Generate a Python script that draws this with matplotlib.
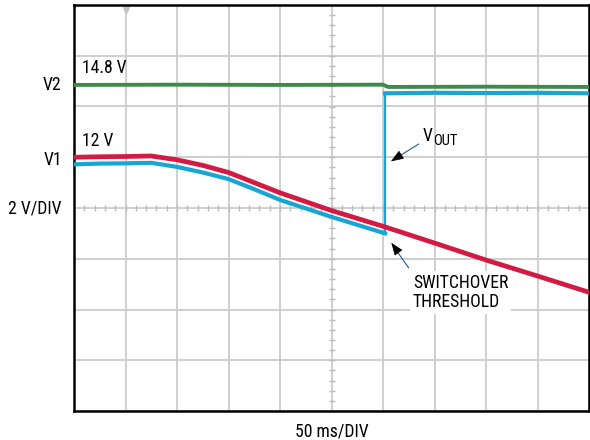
"""
Scope capture: V1 sags, VOUT switches over to V2 at the threshold.
"""

import matplotlib

matplotlib.use("Agg")
import matplotlib.pyplot as plt  # noqa: E402
import numpy as np  # noqa: E402
from matplotlib import font_manager  # noqa: E402

# time in ms (50 ms/DIV), voltage in V (2 V/DIV)
v1_t = [0, 25, 50, 75, 100, 125, 150, 175, 200, 250, 300, 350, 400, 450, 500]
v1_v = [12.0, 12.02, 12.03, 12.05, 11.9, 11.68, 11.4, 11.0, 10.6, 9.9, 9.28,
        8.62, 7.95, 7.32, 6.68]

vout_t = [0, 25, 50, 75, 100, 125, 150, 175, 200, 250, 302, 302, 350, 400,
          450, 500]
vout_v = [11.72, 11.75, 11.76, 11.78, 11.62, 11.4, 11.14, 10.74, 10.32, 9.65,
          9.0, 14.52, 14.54, 14.53, 14.54, 14.52]

v2_t = [0, 100, 200, 300, 305, 400, 500]
v2_v = [14.85, 14.86, 14.85, 14.86, 14.77, 14.78, 14.77]

# pick the narrowest sans that is installed
installed = {f.name for f in font_manager.fontManager.ttflist}
prefs = ["Liberation Sans Narrow", "DejaVu Sans Condensed", "Roboto Condensed",
         "Liberation Sans", "Arial"]
FONT = [f for f in prefs if f in installed][:1] + ["DejaVu Sans"]
plt.rcParams["font.family"] = FONT

RED = "#d21a42"
CYAN = "#17a6d2"
GREEN = "#3c8c48"
GRID = "#cccccc"

fig = plt.figure(figsize=(5.9, 4.4), dpi=100)
ax = fig.add_axes([74 / 590, 29 / 440, 515 / 590, 406 / 440])

ax.set_xlim(0, 500)
ax.set_ylim(2, 18)
ax.set_xticks(np.arange(0, 501, 50))
ax.set_yticks(np.arange(2, 19, 2))
ax.tick_params(length=0, labelbottom=False, labelleft=False)
ax.grid(True, color=GRID, linewidth=1.3)
ax.set_axisbelow(True)
for sp in ax.spines.values():
    sp.set_linewidth(1.8)
    sp.set_color("black")

# center crosshair minor ticks
ax.plot(np.arange(10, 500, 10), [10] * 49, ls="none", marker="|",
        markersize=5, color="#bbbbbb", mew=1.0, zorder=1)
ax.plot([250] * 39, np.arange(2.4, 18, 0.4), ls="none", marker="_",
        markersize=5, color="#bbbbbb", mew=1.0, zorder=1)
# trigger marker
ax.plot([50], [17.82], marker="v", markersize=5, color="#c4c4c4",
        clip_on=False, zorder=2)

ax.plot(v2_t, v2_v, color=GREEN, linewidth=2.8, zorder=3)
# VOUT: thick flat parts, thin vertical switchover edge
ax.plot(vout_t[:11], vout_v[:11], color=CYAN, linewidth=3.0, zorder=4)
ax.plot(vout_t[10:12], vout_v[10:12], color=CYAN, linewidth=1.6, zorder=4)
ax.plot(vout_t[11:], vout_v[11:], color=CYAN, linewidth=3.0, zorder=4)
ax.plot(v1_t, v1_v, color=RED, linewidth=3.4, zorder=5)

fs = 12.7
ax.text(-12, 14.85, "V2", ha="right", va="center", fontsize=fs, clip_on=False)
ax.text(-12, 11.9, "V1", ha="right", va="center", fontsize=fs, clip_on=False)
ax.text(-12, 9.98, "2 V/DIV", ha="right", va="center", fontsize=fs,
        clip_on=False)
ax.text(8, 15.5, "14.8 V", ha="left", va="center", fontsize=fs)
ax.text(8, 12.63, "12 V", ha="left", va="center", fontsize=fs)
ax.text(250, 1.21, "50 ms/DIV", ha="center", va="center", fontsize=fs,
        clip_on=False)

# VOUT callout
v_txt = ax.text(338.5, 12.83, "V", ha="left", va="center", fontsize=fs,
                zorder=6)
ax.annotate("OUT", xy=(1, 0.5), xycoords=v_txt, xytext=(0.2, -3.2),
            textcoords="offset points", ha="left", va="center",
            fontsize=fs - 2.2, zorder=6)
ax.annotate("", xy=(308, 11.85), xytext=(337, 12.58),
            arrowprops=dict(arrowstyle="-", color="#1f5a8c", lw=0.8),
            zorder=6)
ax.annotate("", xy=(305.5, 11.78), xytext=(314, 12.0),
            arrowprops=dict(arrowstyle="-|>,head_length=0.8,head_width=0.3",
                            color="black", lw=0.5),
            zorder=6)

# switchover callout
ax.text(329, 6.66, "SWITCHOVER\nTHRESHOLD", ha="left", va="center",
        fontsize=fs, linespacing=1.1, zorder=6,
        bbox=dict(facecolor="white", edgecolor="none", pad=2))
ax.annotate("", xy=(310, 8.5), xytext=(326.5, 7.55),
            arrowprops=dict(arrowstyle="-", color="#1f5a8c", lw=0.8),
            zorder=6)
ax.annotate("", xy=(306.5, 8.72), xytext=(314, 8.3),
            arrowprops=dict(arrowstyle="-|>,head_length=0.8,head_width=0.3",
                            color="black", lw=0.5),
            zorder=6)

fig.savefig("out.png", dpi=100)
